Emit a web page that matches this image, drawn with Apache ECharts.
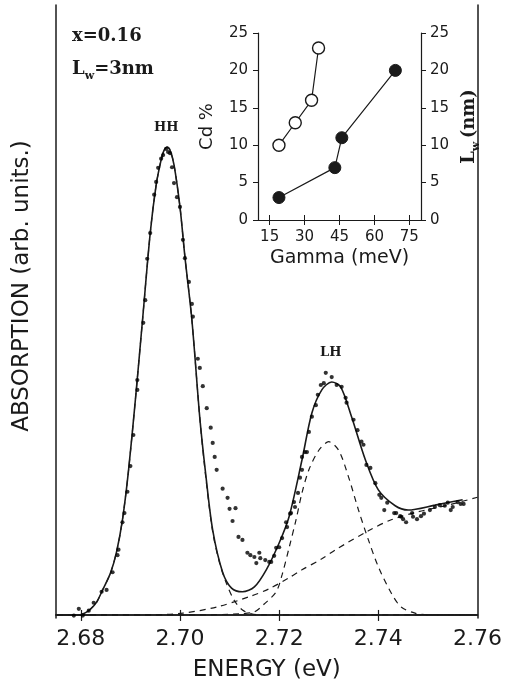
<!DOCTYPE html>
<html>
<head>
<meta charset="utf-8">
<script src="https://cdn.jsdelivr.net/npm/echarts@6/dist/echarts.min.js"></script>
<style>
  html, body { margin: 0; padding: 0; background: #fff; }
  #chart { width: 505px; height: 687px; }
</style>
</head>
<body>
<div id="chart"></div>
<script>
// Measured absorption spectrum: [energy (eV), absorption (arb. units)]
const measured = [
  [2.6786,-0.1],[2.6796,1.0],[2.6804,-0.1],[2.6816,0.7],[2.6826,2.0],[2.6842,3.8],[2.6852,4.1],
  [2.6864,7.0],[2.6874,9.8],[2.6876,10.7],[2.6884,15.2],[2.6888,16.7],[2.6894,20.2],[2.69,24.4],
  [2.6906,29.5],[2.6914,36.9],[2.6914,38.5],[2.6926,47.9],[2.693,51.6],[2.6934,58.4],[2.694,62.6],
  [2.6948,68.9],[2.6952,71.0],[2.6956,73.3],[2.6962,74.8],[2.6966,75.4],[2.6972,76.4],[2.6976,75.9],
  [2.698,75.7],[2.6984,73.4],[2.6988,70.8],[2.6994,68.5],[2.70,66.9],[2.7006,61.5],[2.701,58.5],
  [2.7018,54.6],[2.7024,51.0],[2.7026,48.9],[2.7036,42.0],[2.704,40.5],[2.7046,37.5],[2.7054,33.9],
  [2.7062,30.7],[2.7066,28.2],[2.707,25.9],[2.7074,23.8],[2.7086,20.7],[2.7096,19.2],[2.71,17.4],
  [2.7112,17.5],[2.7106,15.4],[2.7118,12.8],[2.7126,12.3],[2.7136,10.2],[2.7142,9.8],[2.715,9.5],
  [2.7154,8.5],[2.716,10.2],[2.7162,9.3],[2.7172,9.0],[2.718,8.7],[2.7184,8.7],[2.719,9.7],
  [2.7194,11.0],[2.72,11.1],[2.7206,12.6],[2.7214,15.2],[2.7216,14.4],[2.7222,16.6],[2.7224,16.7],
  [2.723,18.5],[2.7232,17.7],[2.7238,20.0],[2.7242,22.5],[2.7246,23.8],[2.7246,25.9],[2.7252,26.7],
  [2.7256,26.7],[2.726,30.0],[2.7266,32.5],[2.7274,34.4],[2.7278,36.1],[2.7284,37.7],[2.729,38.0],
  [2.7294,39.7],[2.7306,39.0],[2.7316,37.7],[2.7326,37.4],[2.7334,35.6],[2.7336,34.8],[2.735,32.0],
  [2.7358,30.3],[2.7366,28.4],[2.737,27.9],[2.7376,24.6],[2.7384,24.1],[2.7394,21.6],[2.7402,19.7],
  [2.7406,19.2],[2.7412,17.2],[2.7418,18.4],[2.7432,16.7],[2.7436,16.7],[2.7444,16.2],[2.7446,16.1],
  [2.745,15.7],[2.7456,15.2],[2.7468,16.7],[2.747,16.1],[2.7478,15.7],[2.7486,16.2],[2.7492,16.6],
  [2.7504,17.2],[2.7514,17.7],[2.7524,18.0],[2.7534,17.9],[2.754,18.4],[2.7546,17.2],[2.755,17.7],
  [2.756,18.5],[2.7566,18.2],[2.7572,18.2]
];

// Total fitted line shape
const fitTotal = [
  [2.6752,0],[2.678,0],[2.6796,0],[2.6808,0.3],[2.682,1.0],[2.6832,2.1],[2.6844,4.1],[2.686,6.9],
  [2.6872,10.3],[2.6884,15.6],[2.6896,23.5],[2.691,35.2],[2.6924,47.9],[2.694,62.6],[2.6952,70.5],
  [2.6962,74.6],[2.6968,76.2],[2.6974,76.7],[2.698,76.2],[2.6988,73.8],[2.70,66.9],[2.701,58.7],
  [2.7024,48.4],[2.704,32.3],[2.7052,23.0],[2.7066,13.9],[2.7086,7.0],[2.7104,4.4],[2.7126,3.8],
  [2.715,4.6],[2.7174,7.4],[2.72,11.8],[2.722,16.1],[2.7246,25.4],[2.7266,33.1],[2.7286,36.9],
  [2.7306,38.2],[2.7324,37.4],[2.7346,32.5],[2.7374,25.4],[2.74,20.5],[2.7434,17.9],[2.746,17.2],
  [2.7514,18.0],[2.757,18.9]
];

// Heavy-hole exciton component
const fitHH = [
  [2.6752,0],[2.678,0],[2.6796,0],[2.6808,0.3],[2.682,1.0],[2.6832,2.1],[2.6844,4.1],[2.686,6.9],
  [2.6872,10.3],[2.6884,15.6],[2.6896,23.5],[2.691,35.2],[2.6924,47.9],[2.694,62.6],[2.6952,70.5],
  [2.6962,74.6],[2.6968,76.2],[2.6974,76.7],[2.698,76.2],[2.6988,73.8],[2.70,66.9],[2.701,58.7],
  [2.7024,48.4],[2.704,32.3],[2.7052,22.6],[2.7066,13.6],[2.708,8.5],[2.7094,5.1],[2.711,2.3],
  [2.7126,0.8],[2.7144,0.2],[2.7164,0],[2.76,0]
];

// Light-hole exciton component
const fitLH = [
  [2.6752,0],[2.704,0],[2.712,0.2],[2.715,0.5],[2.717,1.8],[2.7194,3.8],[2.7206,6.6],[2.722,11.0],
  [2.7234,15.6],[2.7246,20.0],[2.726,23.8],[2.728,27.0],[2.73,28.4],[2.732,27.0],[2.734,22.6],
  [2.736,17.2],[2.738,12.3],[2.74,7.9],[2.7426,3.6],[2.7446,1.3],[2.7474,0.3],[2.75,0],[2.76,0]
];

// Continuum background
const fitBackground = [
  [2.6752,0],[2.684,0],[2.694,0],[2.7006,0.3],[2.7074,1.3],[2.714,3.0],[2.718,4.3],[2.722,6.1],
  [2.7246,7.4],[2.7286,9.2],[2.7314,10.7],[2.738,13.8],[2.7426,15.6],[2.748,16.9],[2.754,18.0],
  [2.76,19.3]
];

// Inset: linewidth Gamma vs Cd content and well width
const gammaCd = [19, 26, 33, 36];
const cdPercent = [10, 13, 16, 23];
const gammaLw = [19, 43, 46, 69];
const wellWidth = [3, 7, 11, 20];

const energyTicks = [2.68, 2.70, 2.72, 2.74, 2.76];
const energyMinorTicks = [2.68, 2.70, 2.72, 2.74];
const gammaTicks = [15, 30, 45, 60, 75];

const INK = '#1a1a1a';
const sansFont = 'DejaVu Sans';
const serifFont = 'DejaVu Serif';

const pairs = (xs, ys) => xs.map((x, i) => [x, ys[i]]);

const chart = echarts.init(document.getElementById('chart'), null, { renderer: 'canvas' });

const dashed = { color: INK, width: 1.2, type: [6, 5] };

chart.setOption({
  animation: false,
  backgroundColor: '#fff',
  grid: [
    { left: 56, top: 5, width: 424, height: 613 },
    { left: 258, top: 33, width: 163, height: 187 }
  ],
  xAxis: [
    {
      type: 'value', gridIndex: 0, min: 2.675, max: 2.76, position: 'bottom',
      axisLine: { show: true, lineStyle: { color: INK, width: 1.5 } },
      axisTick: { show: true, inside: true, length: 5, customValues: energyMinorTicks, lineStyle: { color: INK, width: 1.2 } },
      axisLabel: {
        customValues: energyTicks, margin: 10, color: INK,
        fontFamily: sansFont, fontSize: 22,
        formatter: v => v.toFixed(2)
      },
      splitLine: { show: false },
      name: 'ENERGY (eV)', nameLocation: 'middle', nameGap: 41,
      nameTextStyle: { fontFamily: sansFont, fontSize: 23, color: INK }
    },
    {
      type: 'value', gridIndex: 0, min: 2.675, max: 2.76, position: 'top',
      axisLine: { show: true, lineStyle: { color: INK, width: 1.5 } },
      axisTick: { show: true, inside: true, length: 6, customValues: energyMinorTicks, lineStyle: { color: INK, width: 1.2 } },
      axisLabel: { show: false },
      splitLine: { show: false }
    },
    {
      type: 'value', gridIndex: 1, min: 10, max: 80, position: 'bottom',
      axisLine: { show: true, lineStyle: { color: INK, width: 1.2 } },
      axisTick: { show: true, inside: true, length: 5, customValues: gammaTicks, lineStyle: { color: INK, width: 1 } },
      axisLabel: { customValues: gammaTicks, margin: 10, color: INK, fontFamily: sansFont, fontSize: 15 },
      splitLine: { show: false },
      name: 'Gamma (meV)', nameLocation: 'middle', nameGap: 29,
      nameTextStyle: { fontFamily: sansFont, fontSize: 19, color: INK }
    },
    {
      type: 'value', gridIndex: 1, min: 10, max: 80, position: 'top',
      axisLine: { show: true, lineStyle: { color: INK, width: 1.2 } },
      axisTick: { show: true, inside: true, length: 5, customValues: gammaTicks, lineStyle: { color: INK, width: 1 } },
      axisLabel: { show: false },
      splitLine: { show: false }
    }
  ],
  yAxis: [
    {
      type: 'value', gridIndex: 0, min: -0.5, max: 100, position: 'left',
      axisLine: { show: true, lineStyle: { color: INK, width: 1.5 } },
      axisTick: { show: false }, axisLabel: { show: false }, splitLine: { show: false }
    },
    {
      type: 'value', gridIndex: 0, min: -0.5, max: 100, position: 'right',
      axisLine: { show: true, lineStyle: { color: INK, width: 1.5 } },
      axisTick: { show: false }, axisLabel: { show: false }, splitLine: { show: false }
    },
    {
      type: 'value', gridIndex: 1, min: 0, max: 25, interval: 5, position: 'left',
      axisLine: { show: true, lineStyle: { color: INK, width: 1.2 } },
      axisTick: { show: true, inside: false, length: 5, lineStyle: { color: INK, width: 1 } },
      axisLabel: { margin: 10, color: INK, fontFamily: sansFont, fontSize: 15 },
      splitLine: { show: false },
      name: 'Cd %', nameLocation: 'middle', nameRotate: 90, nameGap: 42,
      nameTextStyle: { fontFamily: sansFont, fontSize: 18, color: INK }
    },
    {
      type: 'value', gridIndex: 1, min: 0, max: 25, interval: 5, position: 'right',
      axisLine: { show: true, lineStyle: { color: INK, width: 1.2 } },
      axisTick: { show: true, inside: false, length: 5, lineStyle: { color: INK, width: 1 } },
      axisLabel: { margin: 9, color: INK, fontFamily: sansFont, fontSize: 15 },
      splitLine: { show: false },
      name: '{l|L}{s|w} {l|(nm)}', nameLocation: 'middle', nameRotate: 90, nameGap: 36,
      nameTextStyle: {
        color: INK,
        rich: {
          l: { fontFamily: serifFont, fontWeight: 'bold', fontSize: 18, color: INK },
          s: { fontFamily: serifFont, fontWeight: 'bold', fontSize: 11, color: INK, padding: [14, 0, 0, 0] }
        }
      }
    }
  ],
  series: [
    {
      name: 'background', type: 'line', xAxisIndex: 0, yAxisIndex: 0,
      data: fitBackground, showSymbol: false, smooth: 0.3, lineStyle: dashed, z: 2
    },
    {
      name: 'LH', type: 'line', xAxisIndex: 0, yAxisIndex: 0,
      data: fitLH, showSymbol: false, smooth: 0.3, lineStyle: dashed, z: 2
    },
    {
      name: 'HH', type: 'line', xAxisIndex: 0, yAxisIndex: 0,
      data: fitHH, showSymbol: false, smooth: 0.3, lineStyle: dashed, z: 2
    },
    {
      name: 'fit', type: 'line', xAxisIndex: 0, yAxisIndex: 0,
      data: fitTotal, showSymbol: false, smooth: 0.3,
      lineStyle: { color: INK, width: 1.6 }, z: 3
    },
    {
      name: 'measured', type: 'scatter', xAxisIndex: 0, yAxisIndex: 0,
      data: measured, symbol: 'circle', symbolSize: 4.2,
      itemStyle: { color: '#000' }, z: 4
    },
    {
      name: 'Cd %', type: 'line', xAxisIndex: 2, yAxisIndex: 2,
      data: pairs(gammaCd, cdPercent), symbol: 'circle', symbolSize: 12, showAllSymbol: true,
      lineStyle: { color: INK, width: 1.2 },
      itemStyle: { color: '#fff', borderColor: INK, borderWidth: 1.4 }, z: 5
    },
    {
      name: 'Lw', type: 'line', xAxisIndex: 2, yAxisIndex: 3,
      data: pairs(gammaLw, wellWidth), symbol: 'circle', symbolSize: 12, showAllSymbol: true,
      lineStyle: { color: INK, width: 1.2 },
      itemStyle: { color: INK, borderColor: INK, borderWidth: 1 }, z: 5
    }
  ],
  graphic: [
    {
      // vertical axis title of the main spectrum
      type: 'text', x: 22, y: 286, rotation: Math.PI / 2,
      style: {
        text: 'ABSORPTION (arb. units.)', fontFamily: sansFont, fontSize: 23, fill: INK,
        align: 'center', verticalAlign: 'middle'
      }
    },
    {
      type: 'text', left: 72, top: 27,
      style: { text: 'x=0.16', fontFamily: serifFont, fontWeight: 'bold', fontSize: 18, fill: INK }
    },
    {
      type: 'text', left: 72, top: 60,
      style: {
        text: '{l|L}{s|w}{l|=3nm}',
        rich: {
          l: { fontFamily: serifFont, fontWeight: 'bold', fontSize: 18, fill: INK, color: INK },
          s: { fontFamily: serifFont, fontWeight: 'bold', fontSize: 11, fill: INK, color: INK, padding: [14, 0, 0, 0] }
        }
      }
    },
    {
      type: 'text', left: 154, top: 121,
      style: { text: 'HH', fontFamily: serifFont, fontWeight: 'bold', fontSize: 13, fill: INK }
    },
    {
      type: 'text', left: 320, top: 346,
      style: { text: 'LH', fontFamily: serifFont, fontWeight: 'bold', fontSize: 13, fill: INK }
    }
  ]
});
</script>
</body>
</html>
